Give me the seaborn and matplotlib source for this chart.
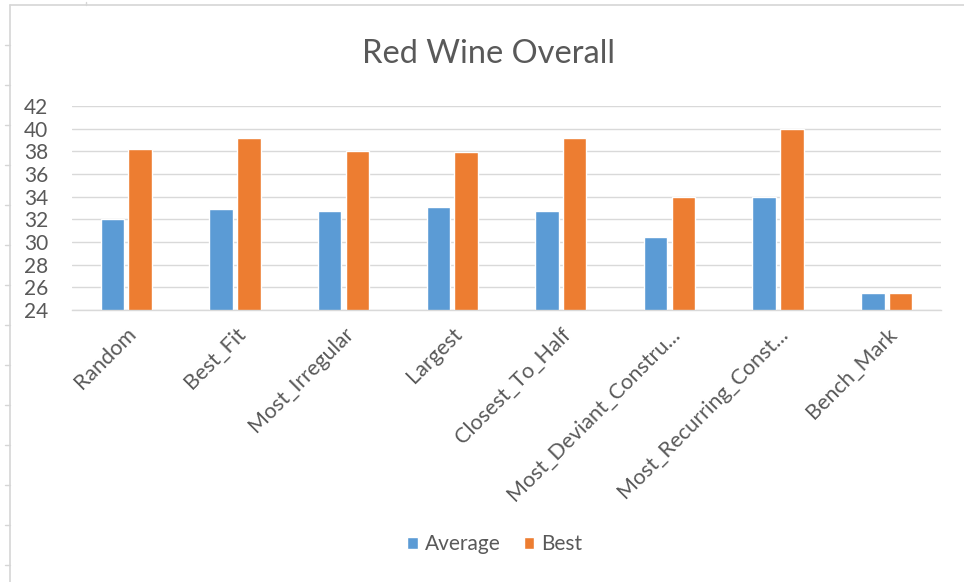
import matplotlib
matplotlib.use("Agg")
import matplotlib.pyplot as plt
import matplotlib.transforms as mtransforms
from matplotlib.lines import Line2D
import pandas as pd
import seaborn as sns

# Scores per selection strategy
categories = ["Random", "Best_Fit", "Most_Irregular", "Largest", "Closest_To_Half",
              "Most_Deviant_Constru...", "Most_Recurring_Const...", "Bench_Mark"]
average = [32.0, 32.9, 32.7, 33.1, 32.7, 30.4, 34.0, 25.5]
best = [38.2, 39.2, 38.0, 37.9, 39.2, 34.0, 40.0, 25.5]
series_names = ["Average", "Best"]
y_ticks = [24, 26, 28, 30, 32, 34, 36, 38, 40, 42]

df = pd.DataFrame({
    "strategy": categories * 2,
    "series": [series_names[0]] * len(categories) + [series_names[1]] * len(categories),
    "score": average + best,
})

sns.set_theme(style="white")
plt.rcParams["font.family"] = ["Lato", "DejaVu Sans"]

TEXT = "#595959"
GRID = "#D9D9D9"

fig = plt.figure(figsize=(9.64, 5.82), dpi=100)
ax = fig.add_axes([72 / 964, 1 - 310 / 582, (941 - 72) / 964, (310 - 106) / 582])

sns.barplot(data=df, x="strategy", y="score", hue="series",
            palette=["#5B9BD5", "#ED7D31"], saturation=1,
            width=0.51, gap=0.15, ax=ax, legend=True)

ax.set_ylim(24, 42)
ax.set_xlim(-0.5, len(categories) - 0.5)
ax.set_yticks(y_ticks)
ax.yaxis.grid(True, color=GRID, linewidth=1)
ax.set_axisbelow(True)
for side in ["top", "right", "left"]:
    ax.spines[side].set_visible(False)
ax.spines["bottom"].set_color(GRID)
ax.spines["bottom"].set_linewidth(1)

ax.set_xlabel("")
ax.set_ylabel("")
ax.tick_params(axis="y", length=0, pad=17, labelsize=15, labelcolor=TEXT)
ax.tick_params(axis="x", which="major", length=0, pad=15, labelsize=15.5, labelcolor=TEXT)
ax.set_xticks([i - 0.5 for i in range(len(categories) + 1)], minor=True)
ax.tick_params(axis="x", which="minor", length=5, width=1, color=GRID, direction="out")
shift = mtransforms.ScaledTranslation(7 / 100, 0, fig.dpi_scale_trans)
for lbl in ax.get_xticklabels():
    lbl.set_rotation(45)
    lbl.set_ha("right")
    lbl.set_va("center")
    lbl.set_rotation_mode("anchor")
    lbl.set_transform(lbl.get_transform() + shift)

handles, labels = ax.get_legend_handles_labels()
ax.get_legend().remove()
fig.legend(handles, labels, loc="center", bbox_to_anchor=(495 / 964, 1 - 544 / 582),
           ncol=2, frameon=False, fontsize=15, labelcolor=TEXT,
           handlelength=0.5, handleheight=0.5, handletextpad=0.35, columnspacing=1.1)

fig.text(489 / 964, 1 - 54 / 582, "Red Wine Overall", ha="center", va="center",
         fontsize=23.5, color=TEXT)

# Sheet border with row/column marks
edge = "#D6D6D6"
fig.add_artist(Line2D([10 / 964, 10 / 964], [0, 1 - 5 / 582], color=edge, lw=1.2))
fig.add_artist(Line2D([10 / 964, 1], [1 - 5 / 582, 1 - 5 / 582], color=edge, lw=1.2))
for yp in range(45, 582, 40):
    fig.add_artist(Line2D([5 / 964, 10 / 964], [1 - yp / 582, 1 - yp / 582], color=edge, lw=1))
fig.add_artist(Line2D([86 / 964, 86 / 964], [1 - 2 / 582, 1 - 5 / 582], color=edge, lw=1))

fig.savefig("out.png", dpi=100, facecolor="white")
